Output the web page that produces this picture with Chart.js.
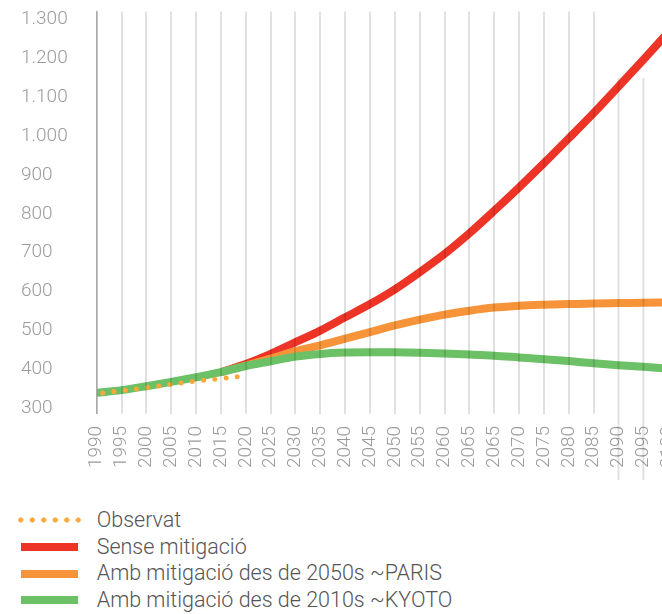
<!DOCTYPE html>
<html>
<head>
<meta charset="utf-8">
<script src="https://cdn.jsdelivr.net/npm/chart.js@4"></script>
<style>
  body { margin: 0; background: #fff; overflow: hidden; }
  #wrap { position: relative; width: 662px; height: 614px; overflow: hidden; }
  #co2 { position: absolute; left: 0; top: 0; }
  #legend { position: absolute; left: 0; top: 507px; font-family: Roboto, sans-serif; font-weight: 300; font-size: 21.5px; color: #555; }
  .item { position: relative; height: 26.7px; }
  .sw { position: absolute; left: 20.7px; width: 57.6px; height: 8px; top: 9.3px; }
  .dots { left: 15px; width: 69px; height: 6px; top: 10.3px;
          background-image: radial-gradient(circle, #f9a93b 2.3px, rgba(249,169,59,0) 2.9px);
          background-size: 11.5px 6px; background-repeat: repeat-x; }
  .txt { position: absolute; left: 96.7px; top: 0; line-height: 26.7px; white-space: nowrap; }
</style>
</head>
<body>
<div id="wrap">
  <canvas id="co2" width="703" height="490"></canvas>
  <div id="legend"></div>
</div>
<script>
const years = ["1990", "1995", "2000", "2005", "2010", "2015", "2020", "2025", "2030", "2035", "2040", "2045",
	"2050", "2055", "2060", "2065", "2065", "2070", "2075", "2080", "2085", "2090", "2095", "2100"];

const observat = [338, 345.5, 353, 362, 370, 376.5, 384];
const senseMitigacio = [null, null, null, null, null, 393, 414, 440, 470, 500, 534, 568,
	606, 650, 697, 750, 808, 868, 930, 994, 1059, 1127, 1196, 1266];
const paris = [null, null, null, null, null, 393, 410, 428, 447, 462, 479, 496,
	513, 528, 541, 551, 559, 564, 566.5, 568, 569.5, 570.5, 571.5, 572];
const kyoto = [340, 347, 357, 368, 380, 393, 409, 421, 433, 440, 443.5, 444.5,
	444, 443, 441, 438.5, 435.5, 431, 426.5, 421.5, 416, 411, 407, 402];

const yTicks = [300, 400, 500, 600, 700, 800, 900, 1000, 1100, 1200, 1300];

const seriesNames = ["Observat", "Sense mitigació", "Amb mitigació des de 2050s ~PARIS", "Amb mitigació des de 2010s ~KYOTO"];
const seriesColors = ["#f9a93b", "#ee3427", "#f7943a", "#6cc065"];

const gridColor = "rgba(0,0,0,0.12)";

// the last two vertical lines are drawn lower and longer in the original
const oddGrid = {
	id: "oddGrid",
	afterDatasetsDraw(chart) {
		const ctx = chart.ctx;
		const x = chart.scales.x;
		ctx.save();
		ctx.strokeStyle = gridColor;
		ctx.lineWidth = 2;
		[21, 22].forEach(i => {
			const px = x.getPixelForValue(i);
			ctx.beginPath();
			ctx.moveTo(px, 78);
			ctx.lineTo(px, 480);
			ctx.stroke();
		});
		ctx.restore();
	}
};

const fmt = v => v >= 1000 ? Math.floor(v / 1000) + "." + String(v % 1000).padStart(3, "0") : String(v);

const tickFont = { family: "Roboto", size: 19, weight: "300" };

const ctx = document.getElementById("co2").getContext("2d");
new Chart(ctx, {
	type: "line",
	data: {
		labels: years,
		datasets: [
			{
				label: seriesNames[0],
				data: observat,
				borderColor: seriesColors[0],
				borderWidth: 5,
				borderDash: [0, 11.3],
				borderDashOffset: 5.3,
				borderCapStyle: "round",
				pointRadius: 0,
				tension: 0.4,
				order: 0,
			},
			{
				label: seriesNames[1],
				data: senseMitigacio,
				borderColor: seriesColors[1],
				borderWidth: 8,
				pointRadius: 0,
				cubicInterpolationMode: "monotone",
				order: 3,
			},
			{
				label: seriesNames[2],
				data: paris,
				borderColor: seriesColors[2],
				borderWidth: 8,
				pointRadius: 0,
				cubicInterpolationMode: "monotone",
				order: 2,
			},
			{
				label: seriesNames[3],
				data: kyoto,
				borderColor: seriesColors[3],
				borderWidth: 8,
				pointRadius: 0,
				cubicInterpolationMode: "monotone",
				order: 1,
			},
		],
	},
	options: {
		responsive: false,
		animation: false,
		devicePixelRatio: 1,
		layout: { padding: { left: 21, top: 8, right: 0, bottom: 10 } },
		plugins: {
			legend: { display: false },
			tooltip: { enabled: false },
		},
		scales: {
			x: {
				offset: false,
				grid: {
					z: 1,
					drawTicks: false,
					lineWidth: 2,
					color: c => (c.index >= 21 ? "rgba(0,0,0,0)" : gridColor),
				},
				border: { display: false },
				ticks: {
					autoSkip: false,
					maxRotation: 90,
					minRotation: 90,
					padding: 12,
					color: "#9b9b9b",
					font: tickFont,
				},
			},
			y: {
				min: 286,
				max: 1320,
				afterBuildTicks: s => { s.ticks = yTicks.map(v => ({ value: v })); },
				afterFit: s => { s.width = 75.7; },
				grid: { display: false, z: 1 },
				border: { display: true, color: "#aaaaaa", width: 1.5, z: 2 },
				ticks: {
					crossAlign: "far",
					padding: 0,
					color: "#9b9b9b",
					font: tickFont,
					callback: v => fmt(v),
				},
			},
		},
	},
	plugins: [oddGrid],
});

// legend below the chart
const legend = document.getElementById("legend");
seriesNames.forEach((name, i) => {
	const row = document.createElement("div");
	row.className = "item";
	const sw = document.createElement("span");
	sw.className = i === 0 ? "sw dots" : "sw";
	if (i > 0) sw.style.background = seriesColors[i];
	const t = document.createElement("span");
	t.className = "txt";
	t.textContent = name;
	row.appendChild(sw);
	row.appendChild(t);
	legend.appendChild(row);
});
</script>
</body>
</html>
